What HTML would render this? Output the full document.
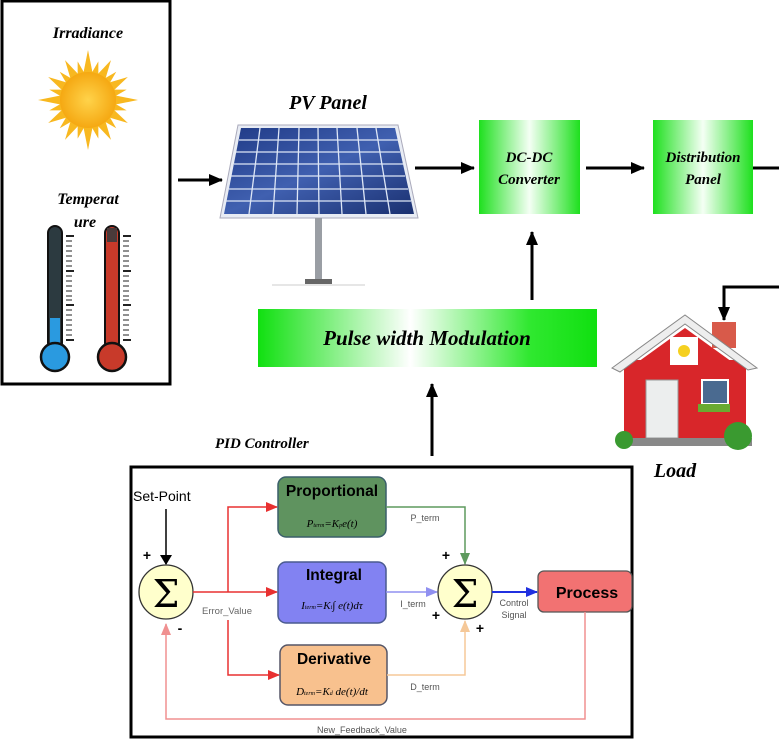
<!DOCTYPE html>
<html><head><meta charset="utf-8"><style>
html,body{margin:0;padding:0;background:#fff;width:779px;height:739px;overflow:hidden}
svg{display:block}
.t{font-family:"Liberation Serif",serif;font-weight:bold;font-style:italic}
.s{font-family:"Liberation Sans",sans-serif}
</style></head><body>
<svg width="779" height="739" viewBox="0 0 779 739" xmlns="http://www.w3.org/2000/svg">
<defs>
<linearGradient id="g3" x1="0" x2="1"><stop offset="0" stop-color="#1ee01e"/><stop offset="0.5" stop-color="#f4fff4"/><stop offset="1" stop-color="#1ee01e"/></linearGradient>
<linearGradient id="gp" x1="0" x2="1"><stop offset="0" stop-color="#10e010"/><stop offset="0.45" stop-color="#ffffff"/><stop offset="0.8" stop-color="#30e830"/><stop offset="1" stop-color="#10e010"/></linearGradient>
<radialGradient id="sun"><stop offset="0" stop-color="#ffd34a"/><stop offset="1" stop-color="#f5a812"/></radialGradient>
<linearGradient id="pv" x1="0" y1="0" x2="1" y2="1"><stop offset="0" stop-color="#1f3a86"/><stop offset="0.5" stop-color="#4060b0"/><stop offset="1" stop-color="#1a3070"/></linearGradient>
<marker id="ak" markerWidth="14" markerHeight="12" refX="13" refY="6" orient="auto" markerUnits="userSpaceOnUse"><path d="M0,0 L14,6 L0,12z" fill="#000"/></marker>
<marker id="ak2" markerWidth="10" markerHeight="12" refX="9" refY="6" orient="auto" markerUnits="userSpaceOnUse"><path d="M0,0 L10,6 L0,12z" fill="#000"/></marker>
<marker id="ar" markerWidth="12" markerHeight="10" refX="11" refY="5" orient="auto" markerUnits="userSpaceOnUse"><path d="M0,0 L12,5 L0,10z" fill="#e83030"/></marker>
<marker id="ag" markerWidth="12" markerHeight="10" refX="11" refY="5" orient="auto" markerUnits="userSpaceOnUse"><path d="M0,0 L12,5 L0,10z" fill="#5e9a5e"/></marker>
<marker id="ab" markerWidth="12" markerHeight="10" refX="11" refY="5" orient="auto" markerUnits="userSpaceOnUse"><path d="M0,0 L12,5 L0,10z" fill="#9090f0"/></marker>
<marker id="ao" markerWidth="12" markerHeight="10" refX="11" refY="5" orient="auto" markerUnits="userSpaceOnUse"><path d="M0,0 L12,5 L0,10z" fill="#f5c898"/></marker>
<marker id="ad" markerWidth="12" markerHeight="10" refX="11" refY="5" orient="auto" markerUnits="userSpaceOnUse"><path d="M0,0 L12,5 L0,10z" fill="#2030e0"/></marker>
<marker id="ap" markerWidth="12" markerHeight="10" refX="11" refY="5" orient="auto" markerUnits="userSpaceOnUse"><path d="M0,0 L12,5 L0,10z" fill="#f09090"/></marker>
</defs>

<rect x="2" y="1" width="168" height="383" fill="#fff" stroke="#000" stroke-width="3"/>
<text x="88" y="38" text-anchor="middle" class="t" font-size="16">Irradiance</text>
<g transform="translate(88,100)">
<g fill="#f8b820">
<polygon points="0,-50 5,-25 -5,-25"/><polygon points="0,50 5,25 -5,25"/><polygon points="-50,0 -25,5 -25,-5"/><polygon points="50,0 25,5 25,-5"/>
<g transform="rotate(30)"><polygon points="0,-46 5,-25 -5,-25"/><polygon points="0,46 5,25 -5,25"/><polygon points="-46,0 -25,5 -25,-5"/><polygon points="46,0 25,5 25,-5"/></g>
<g transform="rotate(60)"><polygon points="0,-46 5,-25 -5,-25"/><polygon points="0,46 5,25 -5,25"/><polygon points="-46,0 -25,5 -25,-5"/><polygon points="46,0 25,5 25,-5"/></g>
<g transform="rotate(15)"><polygon points="0,-40 4,-25 -4,-25"/><polygon points="0,40 4,25 -4,25"/><polygon points="-40,0 -25,4 -25,-4"/><polygon points="40,0 25,4 25,-4"/></g>
<g transform="rotate(45)"><polygon points="0,-40 4,-25 -4,-25"/><polygon points="0,40 4,25 -4,25"/><polygon points="-40,0 -25,4 -25,-4"/><polygon points="40,0 25,4 25,-4"/></g>
<g transform="rotate(75)"><polygon points="0,-40 4,-25 -4,-25"/><polygon points="0,40 4,25 -4,25"/><polygon points="-40,0 -25,4 -25,-4"/><polygon points="40,0 25,4 25,-4"/></g>
</g>
<circle r="28" fill="url(#sun)"/>
</g>
<text x="88" y="204" text-anchor="middle" class="t" font-size="16">Temperat</text>
<text x="85" y="227" text-anchor="middle" class="t" font-size="16">ure</text>
<g>
<rect x="48" y="226" width="14" height="124" rx="7" fill="#2c3a40" stroke="#111" stroke-width="2"/>
<rect x="50" y="318" width="10" height="32" fill="#2a9ae0"/>
<circle cx="55" cy="357" r="14" fill="#2a9ae0" stroke="#111" stroke-width="2.5"/>
<rect x="105" y="226" width="14" height="124" rx="7" fill="#c83a2a" stroke="#111" stroke-width="2"/>
<rect x="107" y="228" width="10" height="14" fill="#4a3a3a"/>
<circle cx="112" cy="357" r="14" fill="#c83a2a" stroke="#111" stroke-width="2.5"/>
<g stroke="#222" stroke-width="1">
<path d="M66 236h8M66 271h8M66 305h8M66 340h8M123 236h8M123 271h8M123 305h8M123 340h8" stroke-width="2"/>
<path d="M66 241h6M66 246h6M66 251h6M66 256h6M66 261h6M66 266h6M66 276h6M66 281h6M66 286h6M66 291h6M66 296h6M66 300h6M66 310h6M66 315h6M66 320h6M66 325h6M66 330h6M66 335h6"/>
<path d="M123 241h6M123 246h6M123 251h6M123 256h6M123 261h6M123 266h6M123 276h6M123 281h6M123 286h6M123 291h6M123 296h6M123 300h6M123 310h6M123 315h6M123 320h6M123 325h6M123 330h6M123 335h6"/>
</g>
</g>

<line x1="178" y1="180" x2="222" y2="180" stroke="#000" stroke-width="3" marker-end="url(#ak)"/>

<text x="328" y="109" text-anchor="middle" class="t" font-size="20">PV Panel</text>
<polygon points="238,125 398,125 418,218 220,218" fill="#e8ecf4" stroke="#aab" stroke-width="1"/>
<polygon points="241,128 395,128 414,214 224,214" fill="url(#pv)"/>
<g stroke="#dde6f6" stroke-width="1.3">
<line x1="239" y1="140" x2="398" y2="140"/><line x1="236" y1="152" x2="400" y2="152"/><line x1="234" y1="164" x2="403" y2="164"/><line x1="231" y1="176" x2="405" y2="176"/><line x1="229" y1="189" x2="408" y2="189"/><line x1="226" y1="201" x2="411" y2="201"/>
<line x1="260" y1="128" x2="249" y2="214"/><line x1="279" y1="128" x2="273" y2="214"/><line x1="299" y1="128" x2="297" y2="214"/><line x1="318" y1="128" x2="319" y2="214"/><line x1="337" y1="128" x2="342" y2="214"/><line x1="357" y1="128" x2="366" y2="214"/><line x1="376" y1="128" x2="390" y2="214"/>
</g>
<rect x="315" y="218" width="7" height="62" fill="#9a9ea4"/>
<rect x="305" y="279" width="27" height="5" fill="#666"/>
<line x1="272" y1="285" x2="365" y2="285" stroke="#ccc" stroke-width="1"/>

<line x1="415" y1="168" x2="474" y2="168" stroke="#000" stroke-width="3" marker-end="url(#ak)"/>
<rect x="479" y="120" width="101" height="94" fill="url(#g3)"/>
<text x="529" y="162" text-anchor="middle" class="t" font-size="15">DC-DC</text>
<text x="529" y="184" text-anchor="middle" class="t" font-size="15">Converter</text>
<line x1="586" y1="168" x2="644" y2="168" stroke="#000" stroke-width="3" marker-end="url(#ak)"/>
<rect x="653" y="120" width="100" height="94" fill="url(#g3)"/>
<text x="703" y="162" text-anchor="middle" class="t" font-size="15">Distribution</text>
<text x="703" y="184" text-anchor="middle" class="t" font-size="15">Panel</text>
<line x1="753" y1="168" x2="779" y2="168" stroke="#000" stroke-width="3"/>

<polyline points="779,287 724,287 724,320" fill="none" stroke="#000" stroke-width="3" marker-end="url(#ak)"/>
<line x1="532" y1="300" x2="532" y2="232" stroke="#000" stroke-width="3" marker-end="url(#ak)"/>

<rect x="258" y="309" width="339" height="58" fill="url(#gp)"/>
<text x="427" y="345" text-anchor="middle" class="t" font-size="21">Pulse width Modulation</text>

<g>
<rect x="712" y="322" width="24" height="26" fill="#d85a4a"/>
<rect x="624" y="360" width="122" height="80" fill="#d8262a"/>
<polygon points="612,368 685,315 757,368 748,370 685,324 620,372" fill="#eee" stroke="#888" stroke-width="1"/>
<polygon points="624,372 685,328 746,372 746,380 624,380" fill="#d8262a"/>
<rect x="670" y="337" width="28" height="28" fill="#fff"/>
<circle cx="684" cy="351" r="6" fill="#f5d020"/>
<rect x="646" y="380" width="32" height="58" fill="#eceeee" stroke="#999"/>
<rect x="702" y="380" width="26" height="24" fill="#4a6a90" stroke="#fff" stroke-width="2"/>
<rect x="698" y="404" width="32" height="8" fill="#6aaa30"/>
<rect x="620" y="438" width="132" height="8" fill="#888"/>
<circle cx="624" cy="440" r="9" fill="#3a9a30"/>
<circle cx="738" cy="436" r="14" fill="#3a9a30"/>
</g>
<text x="675" y="477" text-anchor="middle" class="t" font-size="20">Load</text>

<line x1="432" y1="456" x2="432" y2="384" stroke="#000" stroke-width="3" marker-end="url(#ak)"/>
<text x="215" y="448" class="t" font-size="15">PID Controller</text>

<rect x="131" y="467" width="501" height="270" fill="#fff" stroke="#000" stroke-width="3"/>
<text x="133" y="501" class="s" font-size="14">Set-Point</text>
<line x1="166" y1="509" x2="166" y2="564" stroke="#000" stroke-width="1.5" marker-end="url(#ak2)"/>
<circle cx="166" cy="592" r="27" fill="#ffffcc" stroke="#333" stroke-width="1.3"/>
<text x="166" y="607" text-anchor="middle" font-family="DejaVu Serif,serif" font-size="38">Σ</text>
<text x="147" y="560" text-anchor="middle" class="s" font-weight="bold" font-size="14">+</text>
<text x="180" y="633" text-anchor="middle" class="s" font-weight="bold" font-size="14">-</text>

<g stroke="#e83030" stroke-width="1.5" fill="none">
<line x1="193" y1="592" x2="277" y2="592" marker-end="url(#ar)"/>
<polyline points="228,592 228,507 277,507" marker-end="url(#ar)"/>
<polyline points="228,620 228,675 279,675" marker-end="url(#ar)"/>
</g>
<text x="227" y="614" text-anchor="middle" class="s" font-size="9.5" fill="#666">Error_Value</text>

<rect x="278" y="477" width="108" height="60" rx="8" fill="#5f935f" stroke="#3a5f6a" stroke-width="1.5"/>
<text x="332" y="496" text-anchor="middle" class="s" font-weight="bold" font-size="15.5">Proportional</text>
<text x="332" y="527" text-anchor="middle" font-family="Liberation Serif,serif" font-style="italic" font-size="11">P<tspan font-size="6">term</tspan>=K<tspan font-size="6">p</tspan>e(t)</text>

<rect x="278" y="562" width="108" height="61" rx="8" fill="#8282f2" stroke="#4a5a90" stroke-width="1.5"/>
<text x="334" y="580" text-anchor="middle" class="s" font-weight="bold" font-size="15.5">Integral</text>
<text x="332" y="609" text-anchor="middle" font-family="Liberation Serif,serif" font-style="italic" font-size="11">I<tspan font-size="6">term</tspan>=K<tspan font-size="6">i</tspan>∫ e(t)dτ</text>

<rect x="280" y="645" width="107" height="60" rx="8" fill="#f8c18e" stroke="#556" stroke-width="1.5"/>
<text x="334" y="664" text-anchor="middle" class="s" font-weight="bold" font-size="15.5">Derivative</text>
<text x="332" y="695" text-anchor="middle" font-family="Liberation Serif,serif" font-style="italic" font-size="11">D<tspan font-size="6">term</tspan>=K<tspan font-size="6">d</tspan> de(t)/dt</text>

<polyline points="386,507 465,507 465,564" fill="none" stroke="#5e9a5e" stroke-width="1.5" marker-end="url(#ag)"/>
<text x="425" y="521" text-anchor="middle" class="s" font-size="9" fill="#555">P_term</text>
<line x1="386" y1="592" x2="437" y2="592" stroke="#9090f0" stroke-width="1.5" marker-end="url(#ab)"/>
<text x="413" y="607" text-anchor="middle" class="s" font-size="9" fill="#555">I_term</text>
<polyline points="387,675 465,675 465,621" fill="none" stroke="#f5c898" stroke-width="1.5" marker-end="url(#ao)"/>
<text x="425" y="690" text-anchor="middle" class="s" font-size="9" fill="#555">D_term</text>

<circle cx="465" cy="592" r="27" fill="#ffffcc" stroke="#333" stroke-width="1.3"/>
<text x="465" y="607" text-anchor="middle" font-family="DejaVu Serif,serif" font-size="38">Σ</text>
<text x="446" y="560" text-anchor="middle" class="s" font-weight="bold" font-size="14">+</text>
<text x="436" y="620" text-anchor="middle" class="s" font-weight="bold" font-size="14">+</text>
<text x="480" y="633" text-anchor="middle" class="s" font-weight="bold" font-size="14">+</text>

<line x1="492" y1="592" x2="537" y2="592" stroke="#2030e0" stroke-width="2" marker-end="url(#ad)"/>
<text x="514" y="606" text-anchor="middle" class="s" font-size="9" fill="#555">Control</text>
<text x="514" y="618" text-anchor="middle" class="s" font-size="9" fill="#555">Signal</text>

<rect x="538" y="571" width="94" height="41" rx="6" fill="#f27272" stroke="#555" stroke-width="1.3"/>
<text x="587" y="598" text-anchor="middle" class="s" font-weight="bold" font-size="16">Process</text>

<polyline points="585,612 585,719 166,719 166,624" fill="none" stroke="#f09090" stroke-width="1.5" marker-end="url(#ap)"/>
<text x="362" y="733" text-anchor="middle" class="s" font-size="9" fill="#555">New_Feedback_Value</text>
</svg>
</body></html>
